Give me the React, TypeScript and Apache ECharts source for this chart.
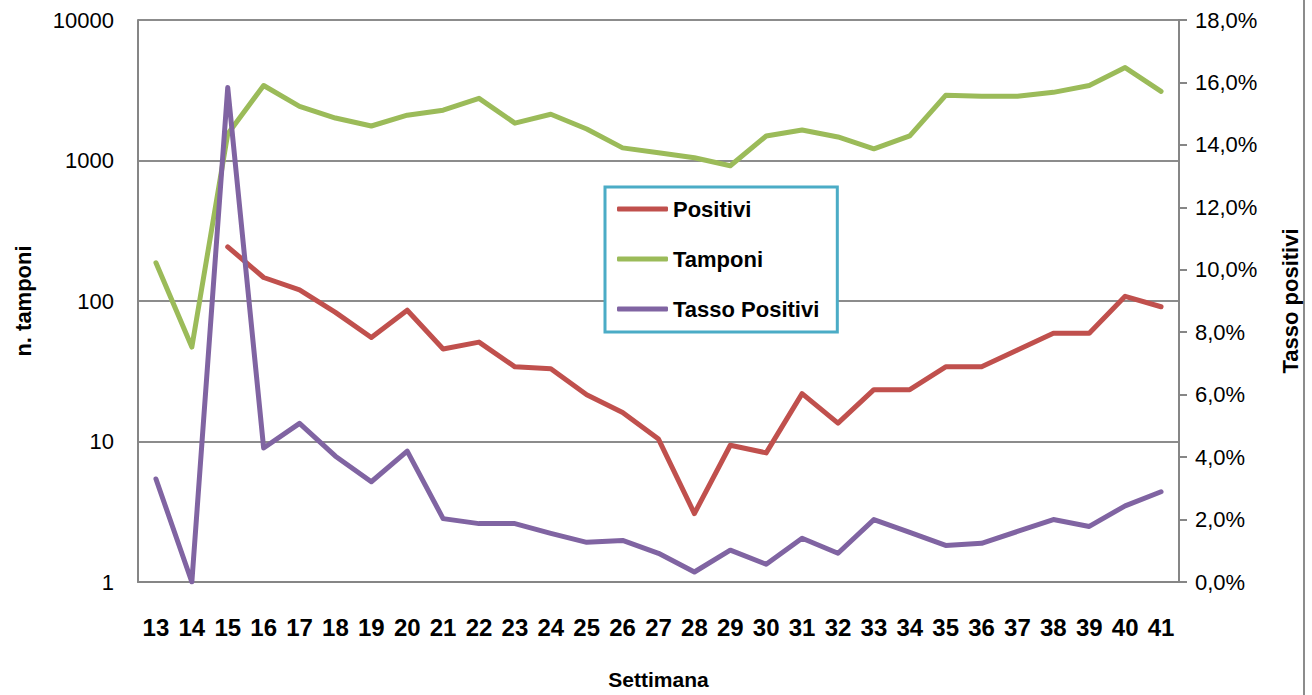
import React, { useEffect, useRef } from "react";
import * as echarts from "echarts";

const weeks: string[] = [
  "13", "14", "15", "16", "17", "18", "19", "20", "21", "22", "23", "24", "25", "26", "27",
  "28", "29", "30", "31", "32", "33", "34", "35", "36", "37", "38", "39", "40", "41",
];

const positivi: (number | null)[] = [
  null, null, 243, 147, 120, 83, 55, 86, 45.5, 51, 34, 33, 21.5, 16.1, 10.4,
  3.07, 9.4, 8.3, 21.9, 13.5, 23.4, 23.4, 34, 34, 44.8, 59, 59, 108, 91,
];

const tamponi: number[] = [
  187, 47, 1545, 3420, 2430, 2005, 1760, 2100, 2280, 2770, 1845, 2135, 1675, 1230, 1135,
  1045, 918, 1495, 1650, 1470, 1210, 1495, 2910, 2865, 2865, 3055, 3420, 4585, 3105,
];

const tassoPositivi: number[] = [
  3.3, 0, 15.84, 4.29, 5.08, 4.03, 3.21, 4.19, 2.03, 1.87, 1.87, 1.56, 1.27, 1.33, 0.92,
  0.32, 1.02, 0.57, 1.4, 0.92, 2.0, 1.59, 1.17, 1.24, 1.62, 2.0, 1.78, 2.44, 2.89,
];

const FONT = "'Liberation Sans', Arial, sans-serif";
const RED = "#C0504D";
const GREEN = "#9BBB59";
const PURPLE = "#8064A2";
const GRID_GREY = "#8C8C8C";

export default function App() {
  const ref = useRef<HTMLDivElement>(null);

  useEffect(() => {
    if (!ref.current) return;
    const chart = echarts.init(ref.current, undefined, { renderer: "svg" });
    chart.setOption({
      animation: false,
      backgroundColor: "#ffffff",
      textStyle: { fontFamily: FONT },
      grid: { left: 138, right: 133, top: 20, bottom: 108, containLabel: false },
      legend: {
        orient: "vertical",
        left: 605,
        top: 187,
        padding: [9, 18, 10, 12],
        itemGap: 24,
        itemWidth: 51,
        itemHeight: 5,
        icon: "roundRect",
        borderColor: "#4BACC6",
        borderWidth: 3,
        backgroundColor: "#ffffff",
        textStyle: {
          fontFamily: FONT,
          fontSize: 22,
          fontWeight: "bold",
          color: "#000",
          lineHeight: 26,
        },
        data: ["Positivi", "Tamponi", "Tasso Positivi"],
      },
      xAxis: {
        type: "category",
        data: weeks,
        boundaryGap: true,
        name: "Settimana",
        nameLocation: "middle",
        nameGap: 87,
        nameTextStyle: { fontFamily: FONT, fontSize: 21, fontWeight: "bold", color: "#000" },
        axisLine: { show: true, lineStyle: { color: "#868686", width: 2 } },
        axisTick: { show: false },
        axisLabel: {
          margin: 33,
          fontFamily: FONT,
          fontSize: 24,
          fontWeight: "bold",
          color: "#000",
          interval: 0,
        },
        splitLine: { show: false },
      },
      yAxis: [
        {
          type: "log",
          logBase: 10,
          min: 1,
          max: 10000,
          name: "n. tamponi",
          nameLocation: "middle",
          nameGap: 104,
          nameRotate: 90,
          nameTextStyle: { fontFamily: FONT, fontSize: 22, fontWeight: "bold", color: "#000" },
          axisLine: { show: true, lineStyle: { color: "#868686", width: 2 } },
          axisTick: { show: false },
          axisLabel: {
            margin: 24,
            fontFamily: FONT,
            fontSize: 22,
            color: "#000",
            formatter: (v: number) => String(Math.round(v)),
          },
          splitLine: { show: true, lineStyle: { color: GRID_GREY, width: 2 } },
        },
        {
          type: "value",
          min: 0,
          max: 18,
          interval: 2,
          position: "right",
          name: "Tasso positivi",
          nameLocation: "middle",
          nameGap: 100,
          nameRotate: 90,
          nameTextStyle: { fontFamily: FONT, fontSize: 22, fontWeight: "bold", color: "#000" },
          axisLine: { show: true, lineStyle: { color: "#868686", width: 2 } },
          axisTick: { show: true, inside: false, length: 8, lineStyle: { color: "#868686", width: 2 } },
          axisLabel: {
            margin: 16,
            fontFamily: FONT,
            fontSize: 22,
            color: "#000",
            formatter: (v: number) => v.toFixed(1).replace(".", ",") + "%",
          },
          splitLine: { show: false },
        },
      ],
      series: [
        {
          name: "Positivi",
          type: "line",
          yAxisIndex: 0,
          data: positivi,
          showSymbol: false,
          symbol: "none",
          connectNulls: false,
          color: RED,
          lineStyle: { color: RED, width: 5, cap: "round", join: "round" },
        },
        {
          name: "Tamponi",
          type: "line",
          yAxisIndex: 0,
          data: tamponi,
          showSymbol: false,
          symbol: "none",
          color: GREEN,
          lineStyle: { color: GREEN, width: 5, cap: "round", join: "round" },
        },
        {
          name: "Tasso Positivi",
          type: "line",
          yAxisIndex: 1,
          data: tassoPositivi,
          showSymbol: false,
          symbol: "none",
          color: PURPLE,
          lineStyle: { color: PURPLE, width: 5, cap: "round", join: "round" },
        },
      ],
      graphic: [
        {
          type: "line",
          shape: { x1: 1304, y1: 0, x2: 1304, y2: 695 },
          style: { stroke: "#8C8C8C", lineWidth: 2 },
          silent: true,
        },
      ],
    });
    return () => {
      chart.dispose();
    };
  }, []);

  return (
    <div
      ref={ref}
      style={{ position: "fixed", left: 0, top: 0, width: 1312, height: 695, background: "#fff" }}
    />
  );
}
